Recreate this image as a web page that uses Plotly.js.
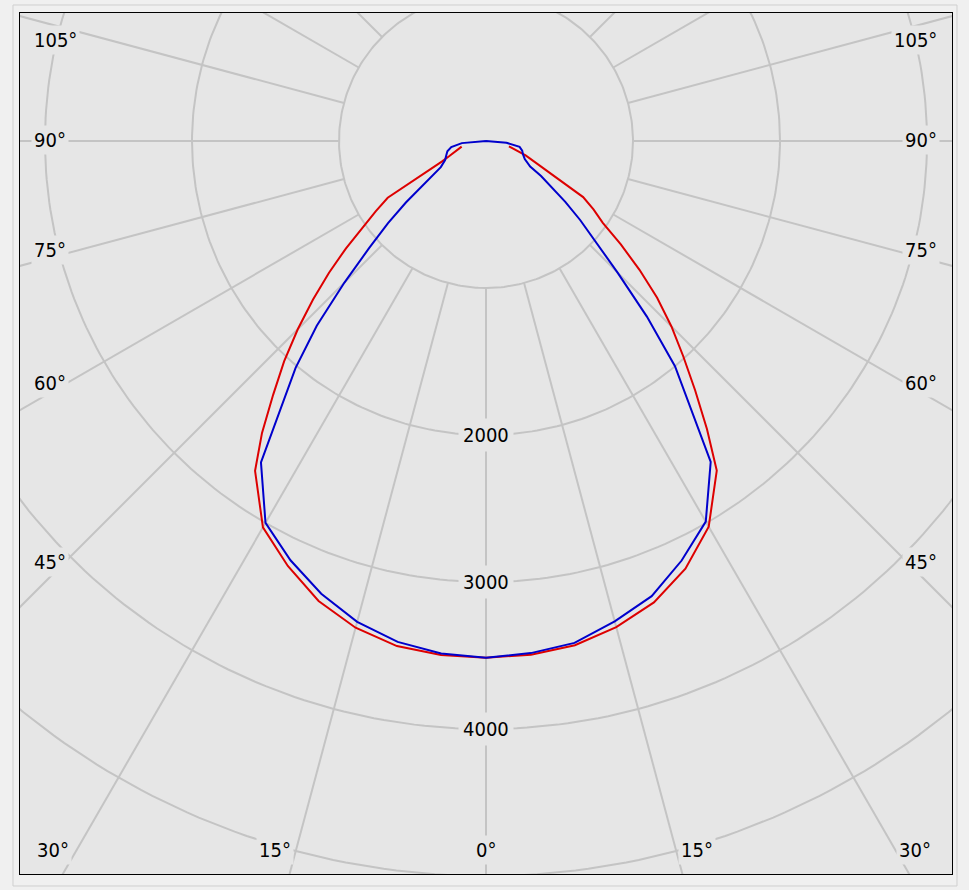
<!DOCTYPE html>
<html><head><meta charset="utf-8">
<script src="https://cdn.plot.ly/plotly-3.0.1.min.js"></script>
<style>html,body{margin:0;padding:0;background:#f0f0f0;}</style>
</head><body><div id="chart" style="width:969px;height:890px;"></div>
<script>
// ---- data (luminous intensity, cd, vs angle from nadir, degrees) ----
const redAngles  = [0,5,10,15,20,25,30,35,37.5,40,42.5,45,47.5,50,52.5,55,57.5,60,62.5,65,67.5,70,75,77];
const redLeft    = [3515,3510,3489,3428,3330,3190,3035,2739,2503,2252,2033,1811,1596,1394,1202,1015,890,772,470,332,272,232,183,170];
const redRight   = [3515,3508,3483,3424,3340,3210,3030,2737,2469,2213,1986,1784,1579,1363,1156,970,867,763,552,416,340,287,185,160];
const blueAngles = [0,5,10,15,20,25,30,35,40,42.5,45,47.5,50,52.5,55,57.5,60,65,70,75,80,85,90];
const blueLeft   = [3515,3499,3460,3386,3277,3147,3000,2669,2015,1704,1362,1079,870,687,536,425,355,307,288,272,240,165,0];
const blueRight  = [3515,3497,3467,3383,3295,3149,2990,2665,2000,1620,1266,1014,836,680,540,444,347,291,268,255,232,140,0];

const ringValues   = [1000,2000,3000,4000,5000];
const ringLabels   = [2000,3000,4000];
const spokeAngles  = [0,15,30,45,60,75,90,105,120,135,150,165,180,195,210,225,240,255,270,285,300,315,330,345];

// angle labels: [text, pixel x, pixel y, anchor]
const angleLabels = [
  ['105°',31,40,'left'],['90°',31,140,'left'],['75°',31,250,'left'],['60°',31,383,'left'],['45°',31,562,'left'],
  ['105°',940,40,'right'],['90°',940,140,'right'],['75°',940,250,'right'],['60°',940,383,'right'],['45°',940,562,'right'],
  ['30°',53,850,'center'],['15°',275,850,'center'],['0°',486,850,'center'],['15°',697,850,'center'],['30°',915,850,'center']
];

const D = Math.PI/180;
function curve(angles, left, right){
  const x=[], y=[];
  for(let i=angles.length-1;i>=0;i--){ x.push(-left[i]*Math.sin(angles[i]*D)); y.push(-left[i]*Math.cos(angles[i]*D)); }
  for(let i=1;i<angles.length;i++){ x.push(right[i]*Math.sin(angles[i]*D)); y.push(-right[i]*Math.cos(angles[i]*D)); }
  return {x,y};
}

const gridColor = '#c4c4c4';
const traces = [];
ringValues.forEach(r=>{
  const x=[],y=[];
  for(let a=0;a<=360;a+=1){ x.push(r*Math.sin(a*D)); y.push(-r*Math.cos(a*D)); }
  traces.push({x,y,type:'scatter',mode:'lines',line:{color:gridColor,width:2},hoverinfo:'skip',showlegend:false});
});
spokeAngles.forEach(a=>{
  traces.push({x:[1000*Math.sin(a*D),8000*Math.sin(a*D)],y:[-1000*Math.cos(a*D),-8000*Math.cos(a*D)],
    type:'scatter',mode:'lines',line:{color:gridColor,width:2},hoverinfo:'skip',showlegend:false});
});
const red = curve(redAngles, redLeft, redRight);
const blue = curve(blueAngles, blueLeft, blueRight);
traces.push({x:red.x,y:red.y,type:'scatter',mode:'lines',line:{color:'#dd0000',width:2},showlegend:false});
traces.push({x:blue.x,y:blue.y,type:'scatter',mode:'lines',line:{color:'#0000cc',width:2},showlegend:false});

const L=20, T=13, PW=932, PH=861;
const px2x = px => (px-L)/PW;
const py2y = py => (T+PH-py)/PH;
const font = {family:'DejaVu Sans Condensed, Noto Sans, DejaVu Sans, sans-serif', size:20, color:'#000'};
const annotations = [];
ringLabels.forEach(r=>{
  annotations.push({x:0,y:-r,xref:'x',yref:'y',text:String(r),showarrow:false,font,bgcolor:'#e6e6e6',borderpad:4,xanchor:'center',yanchor:'middle'});
});
angleLabels.forEach(([t,px,py,anc])=>{
  annotations.push({x:px2x(px),y:py2y(py),xref:'paper',yref:'paper',text:t,showarrow:false,font,bgcolor:'#e6e6e6',borderpad:2,xanchor:anc,yanchor:'middle'});
});

const axisCommon = {showgrid:false,zeroline:false,showticklabels:false,ticks:'',showline:true,mirror:true,linecolor:'#000',linewidth:1,fixedrange:true};
const layout = {
  width:969,height:890,
  margin:{l:L,r:969-L-PW,t:T,b:890-T-PH,pad:0},
  paper_bgcolor:'#f0f0f0',plot_bgcolor:'#e6e6e6',
  xaxis:Object.assign({range:[(L-486)/0.147,(L+PW-486)/0.147]},axisCommon),
  yaxis:Object.assign({range:[(141-T-PH)/0.147,(141-T)/0.147]},axisCommon),
  annotations,
  shapes:[{type:'rect',xref:'paper',yref:'paper',x0:px2x(13),x1:px2x(957),y0:py2y(886),y1:py2y(5),line:{color:'#cfcfcf',width:1},layer:'below'}],
  showlegend:false
};
Plotly.newPlot('chart',traces,layout,{staticPlot:true,displayModeBar:false});
</script></body></html>
